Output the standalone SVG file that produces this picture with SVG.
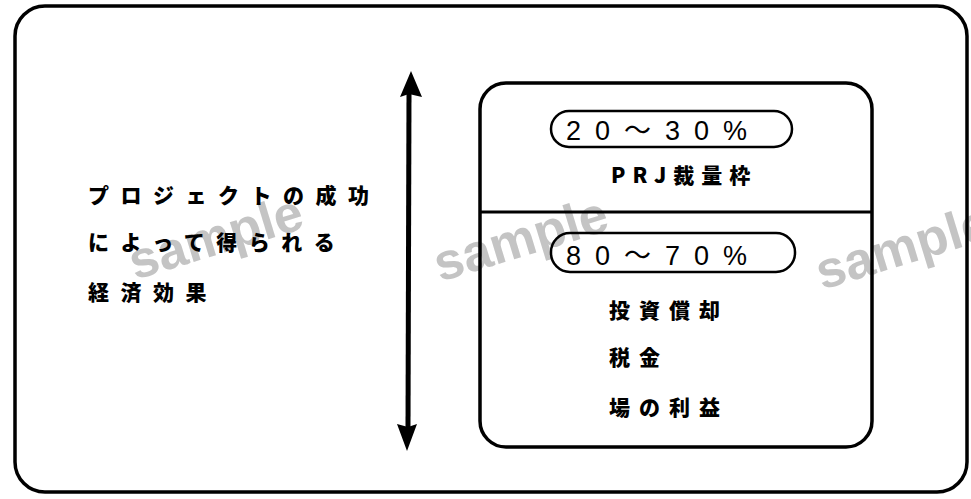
<svg xmlns="http://www.w3.org/2000/svg" width="971" height="499" viewBox="0 0 971 499">
<style>
.box{fill:none;stroke:#000;stroke-width:3.5}
.pill{fill:none;stroke:#000;stroke-width:2.5}
.jp{font-family:"Noto Sans CJK JP","Noto Sans CJK SC",sans-serif;font-weight:900;font-size:21px;fill:#000}
.num{font-family:"Liberation Sans","Noto Sans CJK JP",sans-serif;font-size:27px;fill:#000;letter-spacing:14px}
.wm{font-family:"Liberation Sans",sans-serif;font-weight:bold;font-size:52px;fill:#c4c4c4}
.head{fill:#000}
</style>
<g id="watermarks">
<text class="wm" x="135" y="280" transform="rotate(-17 135 280)">sample</text>
<text class="wm" x="440" y="282" transform="rotate(-17 440 282)">sample</text>
<text class="wm" x="822" y="290" transform="rotate(-17 822 290)">sample</text>
</g>
<g id="frame">
<rect class="box" x="15" y="6" width="952" height="486" rx="30"/>
</g>
<g id="effect">
<text class="jp" x="88" y="203" letter-spacing="11.5">プロジェクトの成功</text>
<text class="jp" x="88" y="250" letter-spacing="11.5">によって得られる</text>
<text class="jp" x="88" y="300" letter-spacing="11.5">経済効果</text>
</g>
<g id="connectors">
<line x1="409" y1="92" x2="408" y2="430" stroke="#000" stroke-width="5"/>
<path class="head" d="M411 71 L422 97 L409 94 L400 97 Z"/>
<path class="head" d="M407 451 L397 424 L408 427 L417 424 Z"/>
</g>
<g id="breakdown">
<rect class="box" x="480" y="83" width="392" height="364" rx="26"/>
<line x1="480" y1="212" x2="872" y2="212" stroke="#000" stroke-width="3"/>
</g>
<g id="prj">
<rect class="pill" x="551" y="111" width="241" height="36" rx="18"/>
<text class="num" x="566" y="140">20～30%</text>
<text class="jp" x="611" y="183" letter-spacing="7">PRJ裁量枠</text>
</g>
<g id="other">
<rect class="pill" x="551" y="233" width="244" height="39" rx="19"/>
<text class="num" x="566" y="265">80～70%</text>
<text class="jp" x="609" y="318" letter-spacing="9">投資償却</text>
<text class="jp" x="609" y="365" letter-spacing="9">税金</text>
<text class="jp" x="609" y="415" letter-spacing="9">場の利益</text>
</g>
</svg>
